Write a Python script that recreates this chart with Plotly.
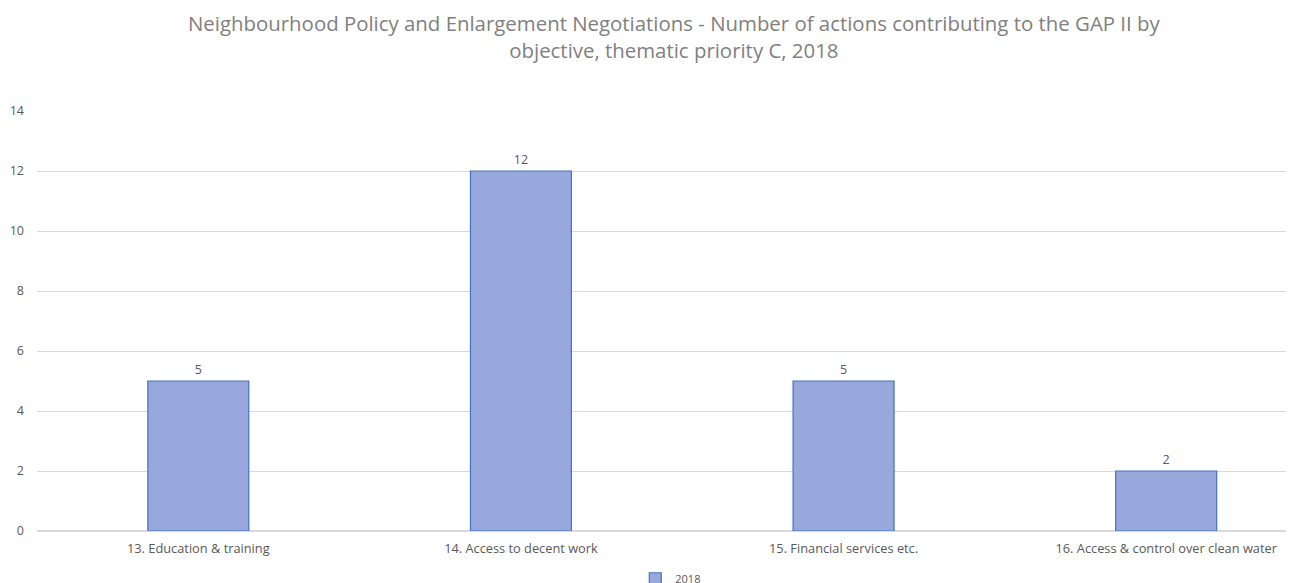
import plotly.graph_objects as go

categories = ["13. Education & training", "14. Access to decent work",
              "15. Financial services etc.", "16. Access & control over clean water"]
values_2018 = [5, 12, 5, 2]
series_name = "2018"
title_line1 = "Neighbourhood Policy and Enlargement Negotiations - Number of actions contributing to the GAP II by"
title_line2 = "objective, thematic priority C, 2018"

fig = go.Figure()
fig.add_trace(go.Bar(
    x=categories, y=values_2018, name=series_name,
    marker=dict(color="#98a7dc", line=dict(color="#4472c4", width=1.2)),
    text=[str(v) for v in values_2018], textposition="outside",
    textfont=dict(color="#595959", size=12.5, family="Open Sans"),
    cliponaxis=False,
))

fig.add_annotation(
    text=title_line1 + "<br>" + title_line2,
    xref="paper", yref="paper", x=0.5, y=1.0, yshift=104, xshift=10,
    xanchor="center", yanchor="top",
    showarrow=False, align="center",
    font=dict(size=20.4, color="#808080", family="Open Sans"),
)

fig.update_layout(
    width=1294, height=583,
    margin=dict(l=29, r=10, t=103, b=60, autoexpand=False),
    paper_bgcolor="white", plot_bgcolor="white",
    font=dict(family="Open Sans", color="#595959", size=11),
    bargap=0.687,
    showlegend=True,
    legend=dict(orientation="h", x=0.505, xanchor="center", yref="container", y=0.021, yanchor="middle",
                font=dict(size=11, color="#595959")),
    xaxis=dict(range=[-0.5, 3.39], showgrid=False, showline=False, ticks="",
               tickfont=dict(size=12.8, color="#595959"), automargin=False,
               ticklabelstandoff=8),
    yaxis=dict(range=[0, 14], dtick=2, showgrid=True, gridcolor="#d9d9d9", gridwidth=1,
               zeroline=True, zerolinecolor="#d9d9d9", showline=False, automargin=False,
               tickfont=dict(size=12.5, color="#595959"), ticklabelstandoff=12),
)

fig.write_html("out.html")
